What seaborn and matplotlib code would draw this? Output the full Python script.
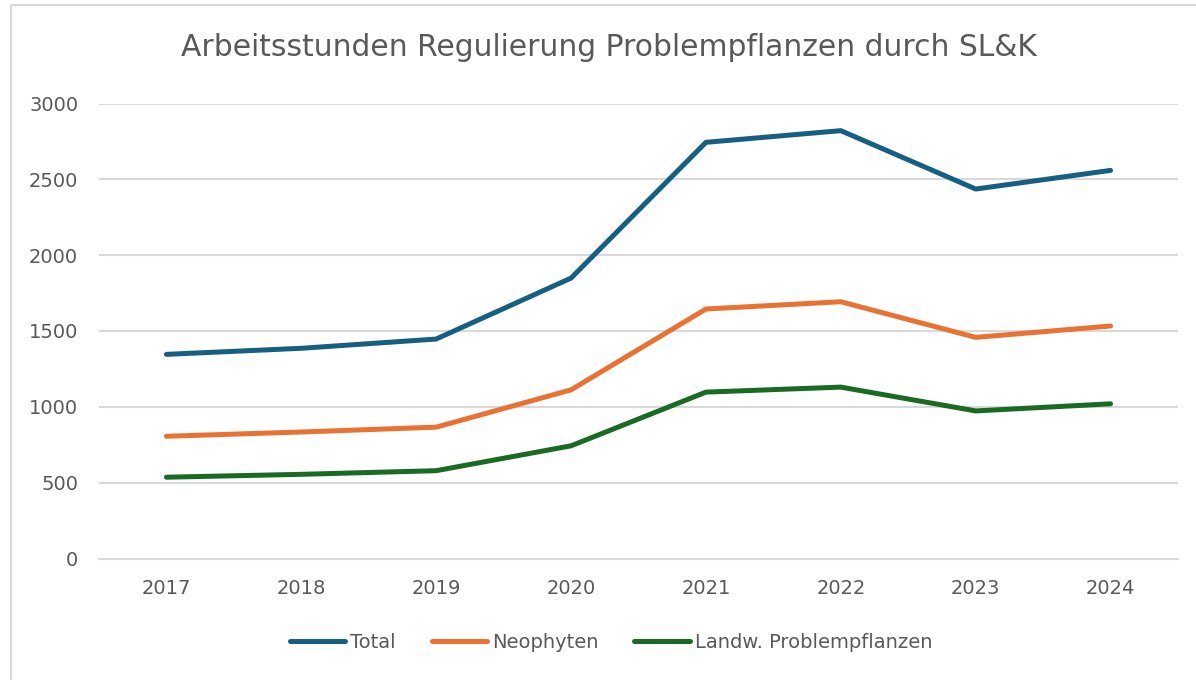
import matplotlib
matplotlib.use("Agg")
import matplotlib.pyplot as plt
import seaborn as sns
import pandas as pd
from matplotlib.lines import Line2D

years = ["2017", "2018", "2019", "2020", "2021", "2022", "2023", "2024"]
total = [1346, 1386, 1447, 1849, 2744, 2821, 2436, 2559]
neophyten = [806, 834, 866, 1112, 1645, 1693, 1458, 1533]
landw = [536, 555, 579, 743, 1097, 1130, 973, 1020]
series_names = ["Total", "Neophyten", "Landw. Problempflanzen"]
colors = ["#156082", "#E97132", "#196B24"]
title = "Arbeitsstunden Regulierung Problempflanzen durch SL&K"

sns.set_theme(style="white")
plt.rcParams["font.family"] = ["DejaVu Sans"]

df = pd.DataFrame({
    "Jahr": years * 3,
    "Stunden": total + neophyten + landw,
    "Serie": [series_names[0]] * 8 + [series_names[1]] * 8 + [series_names[2]] * 8,
})

fig = plt.figure(figsize=(11.96, 6.8), dpi=100)
W, H = 1196, 680
ax = fig.add_axes([99 / W, (H - 558.5) / H, 1079 / W, 455 / H])

sns.lineplot(data=df, x="Jahr", y="Stunden", hue="Serie", hue_order=series_names,
             palette=colors, linewidth=3.6, sort=False, ax=ax, legend=False,
             solid_capstyle="round", solid_joinstyle="round", clip_on=False, zorder=3)

ax.set_xlim(-0.5, 7.5)
ax.set_ylim(0, 3000)
ax.set_yticks([0, 500, 1000, 1500, 2000, 2500, 3000])
ax.grid(axis="y", color="#D9D9D9", linewidth=1.5)
ax.set_axisbelow(True)
for s in ["top", "right", "left"]:
    ax.spines[s].set_visible(False)
ax.spines["bottom"].set_color("#D9D9D9")
ax.spines["bottom"].set_linewidth(1.5)
ax.tick_params(axis="both", length=0, labelsize=14, labelcolor="#595959")
ax.tick_params(axis="y", pad=15)
ax.tick_params(axis="x", pad=15)
ax.set_xlabel("")
ax.set_ylabel("")

fig.text(609 / W, (H - 48) / H, title, ha="center", va="center", fontsize=21.4, color="#595959")

handles = [Line2D([], [], color=c, linewidth=3.6, solid_capstyle="round") for c in colors]
fig.legend(handles, series_names, loc="center", bbox_to_anchor=(611 / W, (H - 642) / H),
           ncol=3, frameon=False, fontsize=14, handlelength=2.85, handletextpad=0.25,
           columnspacing=1.85, labelcolor="#595959")

fig.add_artist(Line2D([11 / W, 11 / W], [0, (H - 5) / H], transform=fig.transFigure,
                      color="#D9D9D9", linewidth=1.5))
fig.add_artist(Line2D([11 / W, 1], [(H - 5) / H, (H - 5) / H], transform=fig.transFigure,
                      color="#D9D9D9", linewidth=1.5))

fig.savefig("out.png", dpi=100, facecolor="white")
